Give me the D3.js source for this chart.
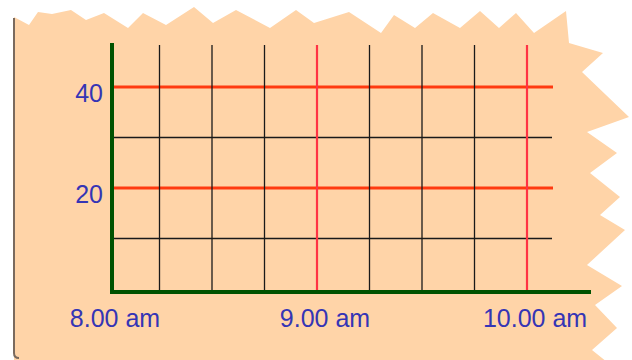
<!DOCTYPE html>
<html>
<head>
<meta charset="utf-8">
<script src="https://cdn.jsdelivr.net/npm/d3@7"></script>
<style>
    html, body { margin: 0; padding: 0; background: #fff; }
    svg { display: block; }
    .label { font-family: "Liberation Sans", Arial, sans-serif; font-size: 25px; fill: #3535b5; }
</style>
</head>
<body>
<div id="chart"></div>
<script>
// chart values
const timeLabels = ["8.00 am", "9.00 am", "10.00 am"];
const labelTimes = ["08:00", "09:00", "10:00"];
const gridTimes = ["08:15", "08:30", "08:45", "09:00", "09:15", "09:30", "09:45", "10:00"];
const majorTimes = ["09:00", "10:00"];
const yLabels = [20, 40];
const yGrid = [10, 20, 30, 40];
const yMajor = [20, 40];

// torn paper outline (decoration only)
const paperEdge = [
    [14, 17], [29, 25], [38, 12], [52, 14], [71, 10], [86, 20], [104, 13], [128, 28],
    [143, 13], [166, 25], [194, 7], [213, 23], [236, 10], [270, 28], [296, 10], [314, 23],
    [349, 12], [381, 33], [394, 15], [415, 28], [433, 13], [460, 28], [480, 11], [499, 28],
    [516, 13], [534, 33], [566, 11], [569, 43], [603, 53], [582, 72], [629, 117], [587, 132],
    [617, 153], [590, 173], [620, 197], [600, 215], [625, 230], [587, 265], [622, 286],
    [595, 305], [617, 328], [592, 350], [607, 362], [14, 362]
];

const width = 632, height = 360;
const margin = {left: 112, top: 43, right: 591, bottom: 292};
const gridRight = 552, gridTop = 45;

const parse = d3.timeParse("%H:%M");

const x = d3.scaleTime()
    .domain([parse("08:00"), parse("10:00")])
    .range([107, 527]);

const y = d3.scaleLinear()
    .domain([0, 40])
    .range([289, 87]);

const svg = d3.select("#chart").append("svg")
    .attr("width", width)
    .attr("height", height);

svg.append("path")
    .attr("d", d3.line()(paperEdge) + "Z")
    .attr("fill", "#ffd4a8");

// left shadow edge with rounded bottom corner
svg.append("path")
    .attr("d", "M 14,18 V 353 Q 14,358 19,358")
    .attr("fill", "none")
    .attr("stroke", "#7a6a5e")
    .attr("stroke-width", 2);

// horizontal grid
svg.append("g").selectAll("line")
    .data(yGrid)
    .join("line")
    .attr("x1", margin.left)
    .attr("x2", d => yMajor.includes(d) ? gridRight + 1 : gridRight)
    .attr("y1", d => y(d))
    .attr("y2", d => y(d))
    .attr("stroke", d => yMajor.includes(d) ? "#ff3a10" : "#1a1a1a")
    .attr("stroke-width", d => yMajor.includes(d) ? 3 : 1.3);

// vertical grid
svg.append("g").selectAll("line")
    .data(gridTimes)
    .join("line")
    .attr("x1", d => x(parse(d)))
    .attr("x2", d => x(parse(d)))
    .attr("y1", gridTop)
    .attr("y2", margin.bottom)
    .attr("stroke", d => majorTimes.includes(d) ? "#ff3344" : "#1a1a1a")
    .attr("stroke-width", d => majorTimes.includes(d) ? 2.2 : 1.3);

// axes
svg.append("line")
    .attr("x1", margin.left).attr("x2", margin.left)
    .attr("y1", margin.top).attr("y2", margin.bottom + 2)
    .attr("stroke", "#005200")
    .attr("stroke-width", 4);

svg.append("line")
    .attr("x1", margin.left - 2).attr("x2", margin.right)
    .attr("y1", margin.bottom).attr("y2", margin.bottom)
    .attr("stroke", "#005200")
    .attr("stroke-width", 4);

// labels
svg.append("g").selectAll("text")
    .data(yLabels)
    .join("text")
    .attr("class", "label")
    .attr("x", 103)
    .attr("y", d => y(d) + 15)
    .attr("text-anchor", "end")
    .text(d => d);

svg.append("g").selectAll("text")
    .data(labelTimes)
    .join("text")
    .attr("class", "label")
    .attr("x", d => x(parse(d)) + 8)
    .attr("y", 327)
    .attr("text-anchor", "middle")
    .text((d, i) => timeLabels[i]);
</script>
</body>
</html>
